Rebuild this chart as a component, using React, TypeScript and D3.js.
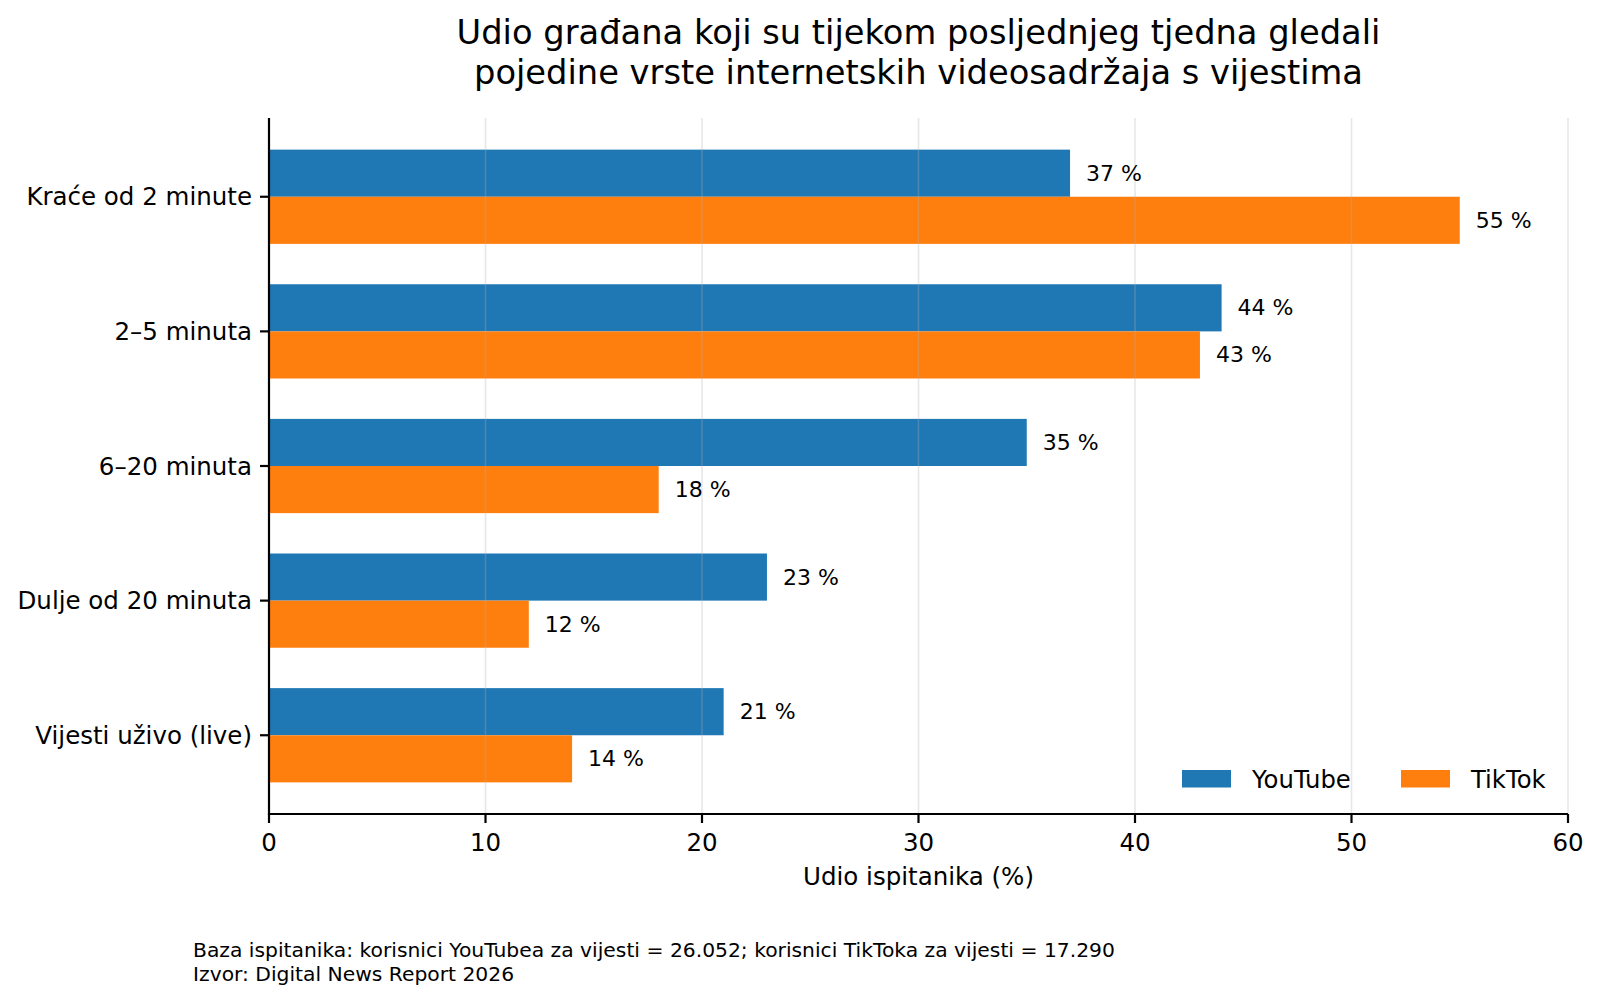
import * as d3 from 'd3';

const categories = [
  'Kraće od 2 minute',
  '2–5 minuta',
  '6–20 minuta',
  'Dulje od 20 minuta',
  'Vijesti uživo (live)',
];
const youtube = [37, 44, 35, 23, 21];
const tiktok = [55, 43, 18, 12, 14];
const seriesNames = ['YouTube', 'TikTok'];
const xTicks = [0, 10, 20, 30, 40, 50, 60];

const titleLines = [
  'Udio građana koji su tijekom posljednjeg tjedna gledali',
  'pojedine vrste internetskih videosadržaja s vijestima',
];
const footnoteLines = [
  'Baza ispitanika: korisnici YouTubea za vijesti = 26.052; korisnici TikToka za vijesti = 17.290',
  'Izvor: Digital News Report 2026',
];

const W = 1600;
const H = 1000;
const FONT = 'DejaVu Sans, sans-serif';
const BLUE = '#1f77b4';
const ORANGE = '#ff7f0e';

export default function App() {
  const margin = { top: 118, right: 32, bottom: 186, left: 269 };
  const innerW = W - margin.left - margin.right;
  const innerH = H - margin.top - margin.bottom;

  const x = d3.scaleLinear().domain([0, 60]).range([0, innerW]);
  // categories at 0..4, matplotlib-like padding around the bars
  const y = d3.scaleLinear().domain([-0.585, 4.585]).range([0, innerH]);
  const barH = 0.35;

  const series = [youtube, tiktok];
  const colors = [BLUE, ORANGE];

  return (
    <svg
      width={W}
      height={H}
      style={{ position: 'absolute', left: 0, top: 0, background: '#fff' }}
      fontFamily={FONT}
    >
      <rect width={W} height={H} fill="#fff" />

      {/* title */}
      <text x={margin.left + innerW / 2} textAnchor="middle" fontSize={33.7} fill="#000">
        {titleLines.map((t, i) => (
          <tspan key={i} x={margin.left + innerW / 2} y={44 + i * 39.5}>{t}</tspan>
        ))}
      </text>

      <g transform={`translate(${margin.left},${margin.top})`}>
        {/* bars */}
        {series.map((vals, s) =>
          vals.map((v, i) => (
            <rect
              key={`${s}-${i}`}
              x={x(0)}
              y={y(i - barH + s * barH)}
              width={x(v) - x(0)}
              height={y(barH) - y(0)}
              fill={colors[s]}
            />
          ))
        )}

        {/* grid */}
        {xTicks.map(t => (
          <line key={t} x1={x(t)} x2={x(t)} y1={0} y2={innerH} stroke="#b0b0b0" strokeOpacity={0.3} strokeWidth={1.6} />
        ))}

        {/* value labels */}
        {series.map((vals, s) =>
          vals.map((v, i) => (
            <text
              key={`l${s}-${i}`}
              x={x(v) + 16}
              y={y(i - barH / 2 + s * barH)}
              dominantBaseline="central"
              fontSize={22}
              fill="#000"
            >
              {`${v} %`}
            </text>
          ))
        )}

        {/* spines */}
        <line x1={0} x2={0} y1={0} y2={innerH} stroke="#000" strokeWidth={2.2} />
        <line x1={-1.1} x2={innerW} y1={innerH} y2={innerH} stroke="#000" strokeWidth={2.2} />

        {/* y ticks */}
        {categories.map((c, i) => (
          <g key={c} transform={`translate(0,${y(i)})`}>
            <line x1={-9} x2={0} stroke="#000" strokeWidth={2.2} />
            <text x={-17} textAnchor="end" dominantBaseline="central" fontSize={24.5} fill="#000">{c}</text>
          </g>
        ))}

        {/* x ticks */}
        {xTicks.map(t => (
          <g key={t} transform={`translate(${x(t)},${innerH})`}>
            <line y1={0} y2={9} stroke="#000" strokeWidth={2.2} />
            <text y={37} textAnchor="middle" fontSize={24.5} fill="#000">{t}</text>
          </g>
        ))}
        <text x={innerW / 2} y={innerH + 71} textAnchor="middle" fontSize={24.5} fill="#000">
          Udio ispitanika (%)
        </text>

        {/* legend */}
        {seriesNames.map((n, s) => (
          <g key={n} transform={`translate(${913 + s * 219},${652})`}>
            <rect x={0} y={0} width={49} height={17.5} fill={colors[s]} />
            <text x={70} y={9.5} dominantBaseline="central" fontSize={24.3} fill="#000">{n}</text>
          </g>
        ))}
      </g>

      {/* footnote */}
      <text fontSize={20.3} fill="#000">
        {footnoteLines.map((t, i) => (
          <tspan key={i} x={193} y={957 + i * 23.5}>{t}</tspan>
        ))}
      </text>
    </svg>
  );
}
